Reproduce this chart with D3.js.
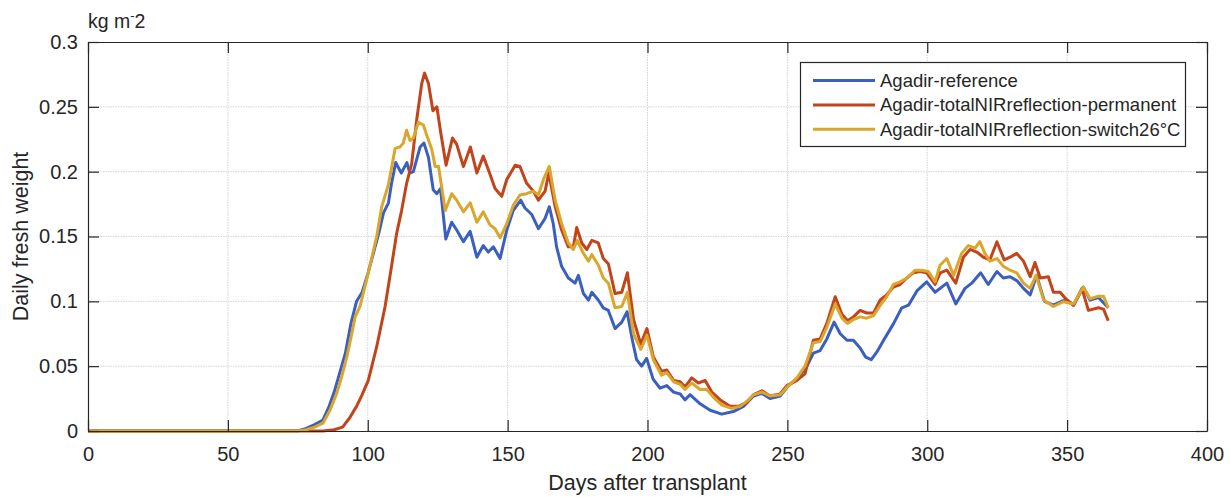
<!DOCTYPE html>
<html><head><meta charset="utf-8">
<script src="https://cdn.jsdelivr.net/npm/d3@7"></script>
<style>
html,body{margin:0;padding:0;background:#fff;}
text{font-family:"Liberation Sans",Arial,Helvetica,sans-serif;fill:#262626;}
</style></head>
<body><svg id="chart" width="1231" height="497"></svg>
<script>
const seriesNames = ["Agadir-reference","Agadir-totalNIRreflection-permanent","Agadir-totalNIRreflection-switch26°C"];
const xTicks = [0,50,100,150,200,250,300,350,400];
const yTicks = [0,0.05,0.1,0.15,0.2,0.25,0.3];
const yTickLabels = ["0","0.05","0.1","0.15","0.2","0.25","0.3"];

const reference = [[0,0],[75,0],[78,0.002],[81,0.005],[84,0.0085],[86,0.018],[88,0.030],[90,0.045],[92,0.060],[94,0.083],[96,0.100],[98,0.107],[100,0.121],[102,0.137],[104,0.153],[105.6,0.168],[107.4,0.176],[108.5,0.191],[110,0.207],[112,0.199],[114,0.207],[115,0.199],[116.3,0.200],[118.7,0.219],[120.1,0.222],[121.7,0.211],[123.4,0.186],[124.7,0.183],[126,0.187],[127.9,0.148],[130,0.161],[131.8,0.155],[134.2,0.146],[136.6,0.154],[139,0.134],[141.3,0.143],[143.1,0.138],[144.9,0.142],[147.3,0.133],[149.7,0.155],[152,0.170],[154.7,0.178],[156.2,0.172],[158.6,0.167],[161,0.156],[163.4,0.164],[164.9,0.173],[166.3,0.160],[167.5,0.142],[169.3,0.127],[171.7,0.118],[174.1,0.114],[175.3,0.120],[177.1,0.106],[178.9,0.101],[180.1,0.107],[182.4,0.101],[184.2,0.095],[186,0.093],[188.4,0.079],[190.8,0.084],[192.7,0.092],[194.6,0.070],[196.1,0.055],[197.9,0.050],[199.7,0.056],[202,0.040],[204.5,0.033],[206.9,0.035],[209.3,0.030],[211.7,0.0285],[213.4,0.024],[215.2,0.028],[218.8,0.021],[222.4,0.016],[226.5,0.013],[230.7,0.015],[234.3,0.019],[237.9,0.027],[240.9,0.029],[243.8,0.025],[247.4,0.027],[250.4,0.035],[253.4,0.040],[257,0.050],[259.3,0.060],[261.7,0.062],[264.1,0.071],[266.7,0.084],[268.9,0.075],[271.3,0.070],[273.6,0.070],[276,0.064],[278,0.057],[280,0.055],[282,0.061],[284.4,0.070],[288,0.083],[290.9,0.095],[293.3,0.097],[296.3,0.108],[299.8,0.115],[302.8,0.107],[307,0.114],[310.2,0.098],[313.5,0.110],[315.9,0.114],[319.1,0.122],[321.8,0.113],[324.9,0.123],[327.2,0.118],[329.6,0.119],[332,0.116],[334.4,0.110],[336.8,0.105],[339.1,0.120],[341.9,0.100],[345.1,0.097],[348,0.100],[350,0.101],[352.3,0.097],[355.8,0.111],[358.2,0.101],[361.2,0.103],[364.7,0.095]];

const permanent = [[0,0],[84,0],[88,0.001],[91,0.003],[93.5,0.010],[96,0.019],[98,0.028],[100.2,0.039],[103.2,0.065],[106.2,0.096],[108.5,0.127],[110.3,0.152],[112.1,0.170],[113.9,0.191],[115.7,0.206],[117.5,0.240],[119.3,0.268],[120.3,0.276],[121.7,0.268],[123.3,0.247],[124.7,0.250],[126.1,0.230],[128,0.205],[130.3,0.226],[131.8,0.221],[134.2,0.204],[136.7,0.219],[139,0.199],[141.3,0.212],[143.7,0.198],[145.5,0.187],[147.9,0.181],[149.7,0.194],[152.7,0.205],[154.4,0.204],[156.8,0.191],[159.2,0.185],[161,0.178],[163.4,0.185],[164.7,0.199],[167,0.173],[169.3,0.155],[171.7,0.142],[173.5,0.142],[174.7,0.157],[176.5,0.145],[178.3,0.140],[180.1,0.147],[182.4,0.145],[184.2,0.133],[186,0.129],[188.4,0.106],[190.8,0.107],[192.8,0.122],[195,0.086],[197.6,0.067],[199.8,0.079],[202.1,0.057],[205,0.046],[206.9,0.047],[209.3,0.039],[211.7,0.038],[213.4,0.034],[215.8,0.041],[218.2,0.037],[220.6,0.039],[223,0.030],[226,0.024],[229.5,0.019],[232.5,0.019],[235.5,0.022],[237.9,0.028],[240.9,0.031],[243.8,0.027],[247.4,0.0285],[249.8,0.035],[253.4,0.039],[256.3,0.044],[259.3,0.070],[261.7,0.071],[264.1,0.083],[267.1,0.1035],[269.5,0.090],[271.5,0.085],[273.6,0.088],[276,0.093],[278.4,0.091],[280.8,0.091],[283.2,0.101],[285.5,0.105],[287.9,0.111],[290.3,0.113],[292.7,0.118],[295,0.122],[297.4,0.123],[299.8,0.122],[302.8,0.113],[304.6,0.122],[307,0.124],[310.2,0.114],[312.9,0.134],[315.3,0.140],[317.7,0.138],[320.1,0.134],[322.4,0.132],[324.9,0.146],[327.5,0.132],[329.6,0.134],[332,0.137],[334.4,0.131],[336.8,0.119],[338.5,0.130],[340.4,0.118],[343.3,0.119],[345.1,0.107],[347.5,0.107],[349.9,0.101],[352.3,0.097],[355.3,0.110],[357.6,0.093],[361.2,0.095],[363,0.094],[364.7,0.085]];

const switch26 = [[0,0],[75,0],[78,0.001],[81,0.003],[84,0.006],[86.5,0.016],[88.9,0.029],[90.7,0.042],[92.5,0.057],[94,0.072],[95.5,0.088],[97.2,0.096],[100.2,0.122],[103.2,0.150],[105,0.173],[107.4,0.190],[109.8,0.218],[111.5,0.219],[112.7,0.222],[113.9,0.232],[115.1,0.224],[116.3,0.226],[118.1,0.238],[119.9,0.236],[121.1,0.228],[122.9,0.217],[124.1,0.204],[125.3,0.204],[127.7,0.170],[130,0.183],[131.8,0.178],[134.2,0.169],[136.6,0.176],[139,0.161],[141.3,0.169],[143.7,0.159],[145.5,0.156],[147.3,0.149],[149.7,0.160],[152,0.174],[154.4,0.182],[156.8,0.183],[159.2,0.185],[161,0.182],[162.8,0.194],[164.9,0.204],[167,0.178],[169.3,0.160],[171.7,0.145],[173.5,0.140],[174.9,0.147],[177.1,0.137],[178.9,0.131],[180.1,0.136],[182.4,0.128],[184.2,0.118],[186,0.114],[188.4,0.095],[190.8,0.096],[192.8,0.107],[195,0.075],[197.6,0.063],[199.8,0.074],[202.1,0.055],[205,0.043],[206.9,0.045],[209.3,0.038],[211.7,0.036],[213.4,0.032],[215.8,0.037],[218.8,0.032],[221.2,0.032],[223.6,0.026],[226.6,0.020],[230.1,0.0175],[233.1,0.019],[236.1,0.024],[237.9,0.028],[240.9,0.030],[243.8,0.027],[247.4,0.028],[250.4,0.035],[253.4,0.041],[256.3,0.050],[259.3,0.068],[261.7,0.069],[264.1,0.080],[267.1,0.098],[269.5,0.087],[271.5,0.083],[273.6,0.086],[276,0.088],[278.4,0.087],[280.8,0.089],[283.2,0.097],[285.5,0.1035],[287.9,0.113],[290.3,0.115],[292.7,0.118],[295.7,0.124],[298,0.124],[300.4,0.123],[302.8,0.115],[304.6,0.128],[307,0.133],[309.4,0.120],[312.3,0.137],[314.7,0.143],[317.1,0.141],[318.8,0.146],[320.6,0.137],[322.4,0.131],[324.9,0.133],[327.2,0.127],[329.6,0.124],[332,0.122],[334.4,0.114],[336.8,0.110],[338.9,0.120],[341.6,0.101],[345.1,0.096],[348.7,0.0997],[352.3,0.098],[355.8,0.111],[358.2,0.102],[361.2,0.104],[363,0.104],[364.7,0.095]];

const colors = ["#3a5fc1","#c2441b","#daa62b"];
const allSeries = [reference, permanent, switch26];

const svg = d3.select("#chart");
const W = 1231, H = 497;
const m = {left:88, top:42, right:W-1207, bottom:H-431};
const x = d3.scaleLinear().domain([0,400]).range([m.left, W-m.right]);
const y = d3.scaleLinear().domain([0,0.3]).range([H-m.bottom, m.top]);

// grid
const grid = svg.append("g");
grid.selectAll(".gx").data(xTicks.slice(1,-1)).enter().append("line")
  .attr("x1",d=>x(d)).attr("x2",d=>x(d)).attr("y1",y(0)).attr("y2",y(0.3))
  .attr("stroke","#d4d4d4").attr("stroke-width",1).attr("stroke-dasharray","1.5,1");
grid.selectAll(".gy").data(yTicks.slice(1,-1)).enter().append("line")
  .attr("x1",x(0)).attr("x2",x(400)).attr("y1",d=>y(d)).attr("y2",d=>y(d))
  .attr("stroke","#d4d4d4").attr("stroke-width",1).attr("stroke-dasharray","1.5,1");

// lines
const line = d3.line().x(d=>x(d[0])).y(d=>y(d[1]));
allSeries.forEach((s,i)=>{
  svg.append("path").datum(s).attr("d",line).attr("fill","none")
    .attr("stroke",colors[i]).attr("stroke-width",3).attr("stroke-linejoin","round");
});

// axes
const fs = "20px";
const xAxisB = d3.axisBottom(x).tickValues(xTicks).tickSizeInner(-11).tickSizeOuter(0).tickPadding(16);
const xAxisT = d3.axisTop(x).tickValues(xTicks).tickSizeInner(-11).tickSizeOuter(0).tickFormat("");
const yAxisL = d3.axisLeft(y).tickValues(yTicks).tickSizeInner(-11).tickSizeOuter(0).tickPadding(10)
  .tickFormat((d,i)=>yTickLabels[i]);
const yAxisR = d3.axisRight(y).tickValues(yTicks).tickSizeInner(-11).tickSizeOuter(0).tickFormat("");
function style(g){
  g.select(".domain").attr("stroke","#262626").attr("stroke-width",1.2);
  g.selectAll(".tick line").attr("stroke","#262626").attr("stroke-width",1.2);
  g.selectAll("text").style("font-size",fs).attr("fill","#262626");
}
svg.append("g").attr("transform",`translate(0,${y(0)})`).call(xAxisB).call(style);
svg.append("g").attr("transform",`translate(0,${y(0.3)})`).call(xAxisT).call(style);
svg.append("g").attr("transform",`translate(${x(0)},0)`).call(yAxisL).call(style);
svg.append("g").attr("transform",`translate(${x(400)},0)`).call(yAxisR).call(style);

// labels
svg.append("text").attr("x",(x(0)+x(400))/2).attr("y",490).attr("text-anchor","middle")
  .style("font-size","21.5px").text("Days after transplant");
svg.append("text").attr("transform",`translate(28,${(y(0)+y(0.3))/2}) rotate(-90)`)
  .attr("text-anchor","middle").style("font-size","21.5px").text("Daily fresh weight");
const unit = svg.append("text").attr("x",88).attr("y",28).style("font-size","19.5px");
unit.append("tspan").text("kg m");
unit.append("tspan").attr("dy",-8).style("font-size","13px").text("-");
unit.append("tspan").attr("dy",8).text("2");

// legend
const lg = svg.append("g");
lg.append("rect").attr("x",800.5).attr("y",62.5).attr("width",385).attr("height",84)
  .attr("fill","#fff").attr("stroke","#262626").attr("stroke-width",1.2);
seriesNames.forEach((n,i)=>{
  const yy = 80.5 + i*24.4;
  lg.append("line").attr("x1",813).attr("x2",875).attr("y1",yy).attr("y2",yy)
    .attr("stroke",colors[i]).attr("stroke-width",3);
  lg.append("text").attr("x",880).attr("y",yy+6.5).style("font-size","18.5px").text(n);
});
</script></body></html>
